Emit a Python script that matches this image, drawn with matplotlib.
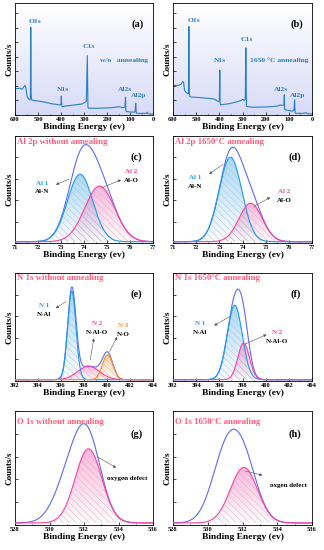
import numpy as np
import matplotlib
matplotlib.use('Agg')
import matplotlib.pyplot as plt
from matplotlib.ticker import MultipleLocator
from matplotlib.colors import to_rgb

plt.rcParams['font.family'] = ['Liberation Serif', 'DejaVu Serif']
plt.rcParams['font.weight'] = 'bold'
plt.rcParams['axes.labelweight'] = 'bold'
plt.rcParams['hatch.linewidth'] = 0.3

# ---- survey spectra (counts normalised 0..1)
survey_a_energy = [600, 590, 580, 570, 562, 556, 552, 548, 542, 536, 533, 531.5, 530, 528,
                   520, 500, 480, 460, 440, 420, 405, 400, 398.5, 397, 395, 380, 360, 340,
                   320, 305, 295, 290, 285.5, 283, 280, 260, 240, 220, 200, 180, 160, 150,
                   140, 130, 122, 119.5, 118, 115, 100, 85, 78, 75, 73, 70, 50, 30, 25, 22,
                   10, 0]
survey_a_counts = [0.24, 0.235, 0.24, 0.23, 0.25, 0.265, 0.24, 0.17, 0.145, 0.135, 0.15, 0.785,
                   0.2, 0.135, 0.13, 0.125, 0.118, 0.11, 0.10, 0.095, 0.09, 0.095, 0.17, 0.09,
                   0.075, 0.08, 0.085, 0.09, 0.095, 0.10, 0.115, 0.12, 0.53, 0.07, 0.06, 0.06,
                   0.06, 0.062, 0.063, 0.065, 0.07, 0.075, 0.07, 0.065, 0.07, 0.16, 0.04, 0.03,
                   0.028, 0.025, 0.028, 0.105, 0.02, 0.015, 0.015, 0.014, 0.025, 0.012, 0.01,
                   0.01]
survey_b_energy = [600, 590, 575, 565, 558, 554, 550, 545, 536, 533, 531.5, 530, 527, 520,
                   500, 480, 460, 440, 420, 405, 400, 398, 396.5, 394, 380, 360, 340, 320,
                   305, 298, 293, 288, 285.5, 283, 280, 260, 240, 200, 170, 150, 135, 125,
                   121, 119.5, 118, 114, 100, 85, 78, 75, 73, 70, 40, 25, 20, 0]
survey_b_counts = [0.26, 0.265, 0.265, 0.275, 0.30, 0.29, 0.22, 0.205, 0.19, 0.19, 0.79, 0.2,
                   0.165, 0.16, 0.158, 0.155, 0.15, 0.148, 0.14, 0.12, 0.13, 0.40, 0.10, 0.09,
                   0.095, 0.10, 0.11, 0.12, 0.13, 0.14, 0.13, 0.14, 0.60, 0.08, 0.075, 0.07,
                   0.07, 0.072, 0.075, 0.08, 0.09, 0.085, 0.09, 0.18, 0.05, 0.045, 0.04, 0.035,
                   0.04, 0.135, 0.02, 0.015, 0.015, 0.02, 0.012, 0.01]

survey_a_labels = ['O1s', 'C1s', 'N1s', 'Al2s', 'Al2p', 'w/o   annealing']
survey_a_label_x = [513, 280, 392, 120, 62, 128]
survey_a_label_y = [0.835, 0.61, 0.23, 0.23, 0.17, 0.49]
survey_b_labels = ['O1s', 'C1s', 'N1s', 'Al2s', 'Al2p', '1650 °C annealing']
survey_b_label_x = [510, 280, 396, 134, 61, 141]
survey_b_label_y = [0.845, 0.67, 0.49, 0.23, 0.17, 0.49]

# ---- fitted peaks: centre (eV), height, sigma (eV)
al_raw_centre = [73.83, 74.68]
al_raw_height = [0.63, 0.52]
al_raw_sigma = [0.55, 0.65]
al_ann_centre = [73.48, 74.35]
al_ann_height = [0.79, 0.36]
al_ann_sigma = [0.49, 0.50]
n_raw_centre = [396.94, 398.4, 400.05]
n_raw_height = [0.82, 0.125, 0.23]
n_raw_sigma = [0.36, 0.95, 0.45]
n_ann_centre = [397.33, 398.1]
n_ann_height = [0.69, 0.34]
n_ann_sigma = [0.65, 0.50]
# O 1s: second entry is the lattice-oxygen part, only seen in the envelope
o_raw_centre = [532.26, 531.2]
o_raw_height = [0.65, 0.40]
o_raw_sigma = [0.77, 0.85]
o_ann_centre = [532.08, 531.0]
o_ann_height = [0.487, 0.55]
o_ann_sigma = [0.78, 0.80]

survey_col = '#2a7ec4'
env_col = '#5f6af2'
blue = '#1a9cf0'
pink = '#ff3fa4'
orange = '#ff8c1a'
title_col = '#ff5c7c'
arrow_col = '#555555'

fig = plt.figure(figsize=(3.24, 5.5), dpi=100)
lefts = [15 / 324, 173 / 324]
width = [138 / 324, 139 / 324]
rows = [(3, 115), (136, 243), (273, 381), (411, 525)]
axes = []
for top, bot in rows:
    r = []
    for c in range(2):
        r.append(fig.add_axes([lefts[c], 1 - bot / 550, width[c], (bot - top) / 550]))
    axes.append(r)


def style(ax, xlim, xstep, minor, ystep):
    ax.set_xlim(*xlim)
    ax.set_ylim(0, 1)
    ax.xaxis.set_major_locator(MultipleLocator(xstep))
    ax.xaxis.set_minor_locator(MultipleLocator(minor))
    ax.yaxis.set_major_locator(MultipleLocator(ystep))
    ax.tick_params(which='both', direction='in', labelsize=4.6, width=0.5, pad=1.5,
                   top=False, right=False, labelleft=False)
    ax.tick_params(which='major', length=2)
    ax.tick_params(which='minor', length=1)
    for s in ax.spines.values():
        s.set_linewidth(0.6)
    ax.set_xlabel('Binding Energy (ev)', fontsize=6.8, labelpad=0.5)
    ax.set_ylabel('Counts/s', fontsize=6.5, labelpad=1)


def gauss(x, c, h, s):
    return h * np.exp(-(x - c) ** 2 / (2 * s ** 2))


def grad_fill(ax, x, y, base, color, top_alpha=0.38):
    poly = ax.fill_between(x, base, y, facecolor='none', edgecolor='none')
    grad = np.zeros((100, 1, 4))
    grad[..., :3] = to_rgb(color)
    grad[:, 0, 3] = np.linspace(0.02, top_alpha, 100)
    im = ax.imshow(grad, extent=[x.min(), x.max(), base, y.max()], origin='lower',
                   aspect='auto', zorder=1, interpolation='bilinear')
    im.set_clip_path(poly.get_paths()[0], transform=ax.transData)
    ax.fill_between(x, base, y, facecolor='none', edgecolor='#b8b8b8', hatch='\\' * 5,
                    linewidth=0, zorder=1.5)


# ---- survey panels
for ax, en, ct, labs, lx, ly, tag in [
        (axes[0][0], survey_a_energy, survey_a_counts, survey_a_labels, survey_a_label_x,
         survey_a_label_y, '(a)'),
        (axes[0][1], survey_b_energy, survey_b_counts, survey_b_labels, survey_b_label_x,
         survey_b_label_y, '(b)')]:
    bg = np.zeros((100, 1, 3))
    bg[:, 0, :] = np.linspace(np.array(to_rgb('#d8dbf7')), np.ones(3), 100)
    ax.imshow(bg, extent=[600, 0, 0, 1], origin='lower', aspect='auto', zorder=0)
    ax.plot(en, ct, color=survey_col, lw=0.8, zorder=2)
    for t, x, y in zip(labs, lx, ly):
        ax.text(x, y, t, color=survey_col, fontsize=5.4, ha='center', va='center')
    ax.text(0.89, 0.81, tag, transform=ax.transAxes, fontsize=7.5, ha='center', va='center')
    style(ax, (600, 0), 100, 50, 0.13)

# ---- fitted panels
panels = [
    (axes[1][0], (71, 77), 1, 0.5, al_raw_centre, al_raw_height, al_raw_sigma, [blue, pink],
     0.012, 'Al 2p without annealing', '(c)', 0.947),
    (axes[1][1], (71, 77), 1, 0.5, al_ann_centre, al_ann_height, al_ann_sigma, [blue, pink],
     0.012, 'Al 2p 1650°C annealing', '(d)', 0.947),
    (axes[2][0], (392, 404), 2, 1, n_raw_centre, n_raw_height, n_raw_sigma,
     [blue, pink, orange], 0.012, 'N 1s without annealing', '(e)', 0.95),
    (axes[2][1], (392, 404), 2, 1, n_ann_centre, n_ann_height, n_ann_sigma, [blue, pink],
     0.012, 'N 1s 1650°C annealing', '(f)', 0.95),
    (axes[3][0], (528, 536), 2, 1, o_raw_centre, o_raw_height, o_raw_sigma, [pink, None],
     0.018, 'O 1s without annealing', '(g)', 0.905),
    (axes[3][1], (528, 536), 2, 1, o_ann_centre, o_ann_height, o_ann_sigma, [pink, None],
     0.018, 'O 1s 1650°C annealing', '(h)', 0.905),
]
for ax, xlim, xstep, minor, cen, hei, sig, cols, base, title, tag, ty in panels:
    x = np.linspace(xlim[0], xlim[1], 800)
    comps = [base + gauss(x, c, h, s) for c, h, s in zip(cen, hei, sig)]
    env = base + sum(cp - base for cp in comps)
    for cp, col in zip(comps, cols):
        if col is not None:
            grad_fill(ax, x, cp, base, col)
    ax.plot(x, env, color=env_col, lw=0.8, zorder=3)
    for cp, col in zip(comps, cols):
        if col is not None:
            ax.plot(x, cp, color=col, lw=0.8, zorder=4)
    ax.text(xlim[0] + 0.012 * (xlim[1] - xlim[0]), ty, title, color=title_col, fontsize=6.3,
            ha='left', va='center', zorder=5)
    ax.text(0.88, 0.80, tag, transform=ax.transAxes, fontsize=7.5, ha='center',
            va='center', zorder=5)
    style(ax, xlim, xstep, minor, 0.2)


def label(ax, x, y, top, bottom, col, start, end):
    ax.text(x, y, top, color=col, fontsize=5, ha='center', va='center', zorder=5)
    ax.text(x, y - 0.08, bottom, color='black', fontsize=5, ha='center', va='center', zorder=5)
    ax.annotate('', xy=end, xytext=start, zorder=5,
                arrowprops=dict(arrowstyle='-|>', color=arrow_col, lw=0.4, mutation_scale=4))


ax = axes[1][0]
label(ax, 72.2, 0.56, 'Al 1', 'Al-N', blue, (73.47, 0.607), (72.67, 0.536))
label(ax, 76.06, 0.665, 'Al 2', 'Al-O', pink, (74.7, 0.51), (75.72, 0.6))
ax = axes[1][1]
label(ax, 71.95, 0.61, 'Al 1', 'Al-N', blue, (73.26, 0.75), (72.46, 0.63))
label(ax, 75.8, 0.48, 'Al 2', 'Al-O', pink, (74.4, 0.33), (75.3, 0.44))
ax = axes[2][0]
label(ax, 394.5, 0.70, 'N 1', 'N-Al', blue, (396.65, 0.75), (395.34, 0.66))
label(ax, 399.1, 0.53, 'N 2', 'N-Al-O', pink, (398.5, 0.17), (398.9, 0.42))
label(ax, 401.4, 0.515, 'N 3', 'N-O', orange, (400.1, 0.25), (401.0, 0.43))
ax = axes[2][1]
label(ax, 394.3, 0.53, 'N 1', 'N-Al', blue, (397.1, 0.61), (395.35, 0.50))
label(ax, 401.0, 0.45, 'N 2', 'N-Al-O', pink, (397.97, 0.33), (400.3, 0.44))

ax = axes[3][0]
ax.text(534.5, 0.41, 'oxygen defect', fontsize=5, ha='center', va='center', zorder=5)
ax.annotate('', xy=(534.0, 0.49), xytext=(532.65, 0.61), zorder=5,
            arrowprops=dict(arrowstyle='-|>', color=arrow_col, lw=0.4, mutation_scale=4))
ax = axes[3][1]
ax.text(534.66, 0.35, 'oxgen defect', fontsize=5, ha='center', va='center', zorder=5)
ax.annotate('', xy=(533.3, 0.43), xytext=(531.98, 0.48), zorder=5,
            arrowprops=dict(arrowstyle='-|>', color=arrow_col, lw=0.4, mutation_scale=4))

fig.savefig('out.png', dpi=100)
